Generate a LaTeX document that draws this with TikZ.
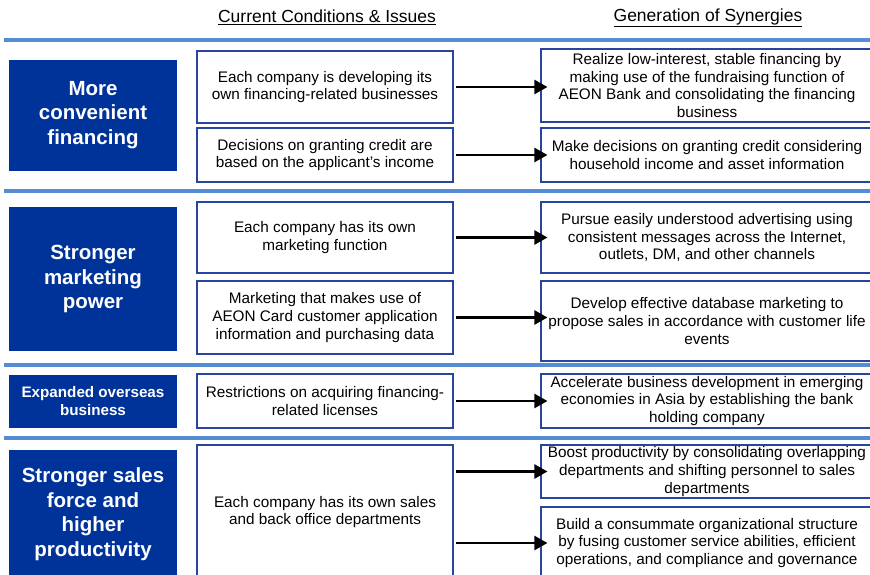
\documentclass[tikz,border=0pt]{standalone}
\usepackage{fontspec}
\setmainfont{Liberation Sans}
\usetikzlibrary{arrows.meta}

\definecolor{navyfill}{RGB}{0,51,153}
\definecolor{ruleblue}{RGB}{84,141,212}
\definecolor{edgeblue}{RGB}{40,70,160}

\begin{document}
\begin{tikzpicture}[x=1pt,y=-1pt,
    theme/.style={fill=navyfill,text=white,align=center,inner sep=0pt,
        minimum width=168pt,font=\fontsize{20.5}{24.5}\selectfont\bfseries},
    issue/.style={draw=edgeblue,line width=1.1pt,align=center,inner sep=0pt,
        minimum width=256pt,font=\fontsize{15.3}{17.9}\selectfont},
    synergy/.style={issue,minimum width=332pt},
    flow/.style={line width=2.3pt,-{Triangle[length=13pt,width=14pt]},
        shorten <=2pt,shorten >=-7pt},
    sepline/.style={ruleblue,line width=3.5pt}]
    \useasboundingbox (0,0) rectangle (870,574);

    % Column headings
    \node[font=\fontsize{17.5}{20}\selectfont] (headL) at (327,17.5) {\underline{Current Conditions \& Issues}};
    \node[font=\fontsize{17.5}{20}\selectfont] (headR) at (708,17.5) {\underline{Generation of Synergies}};

    % Separators between the rows
    \draw[sepline] (4,40) -- (870,40);
    \draw[sepline] (4,191) -- (870,191);
    \draw[sepline] (4,365) -- (870,365);
    \draw[sepline] (4,438) -- (870,438);

    % Themes on the left
    \node[theme,minimum height=111pt] (t1) at (93,115) {More\\convenient\\financing};
    \node[theme,minimum height=144pt] (t2) at (93,279) {Stronger\\marketing\\power};
    \node[theme,minimum height=53pt,font=\fontsize{15.2}{18}\selectfont\bfseries] (t3) at (93,401.5) {Expanded overseas\\business};
    \node[theme,minimum height=128pt] (t4) at (93,514) {Stronger sales\\force and\\higher\\productivity};

    % Current conditions
    \node[issue,minimum height=72pt] (m1) at (325,87) {Each company is developing its\\own financing-related businesses};
    \node[issue,minimum height=54pt] (m2) at (325,155) {Decisions on granting credit are\\based on the applicant’s income};
    \node[issue,minimum height=71pt] (m3) at (325,237.5) {Each company has its own\\marketing function};
    \node[issue,minimum height=73pt] (m4) at (325,317.5) {Marketing that makes use of\\AEON Card customer application\\information and purchasing data};
    \node[issue,minimum height=54pt] (m5) at (325,401) {Restrictions on acquiring financing-\\related licenses};
    \node[issue,minimum height=134pt] (m6) at (325,512) {Each company has its own sales\\and back office departments};

    % Synergies
    \node[synergy,minimum height=73pt] (r1) at (707,85.5) {Realize low-interest, stable financing by\\making use of the fundraising function of\\AEON Bank and consolidating the financing\\business};
    \node[synergy,minimum height=54pt] (r2) at (707,155) {Make decisions on granting credit considering\\household income and asset information};
    \node[synergy,minimum height=71pt] (r3) at (707,237.5) {Pursue easily understood advertising using\\consistent messages across the Internet,\\outlets, DM, and other channels};
    \node[synergy,minimum height=80pt] (r4) at (707,321) {Develop effective database marketing to\\propose sales in accordance with customer life\\events};
    \node[synergy,minimum height=54pt] (r5) at (707,401) {Accelerate business development in emerging\\economies in Asia by establishing the bank\\holding company};
    \node[synergy,minimum height=53pt] (r6) at (707,471.5) {Boost productivity by consolidating overlapping\\departments and shifting personnel to sales\\departments};
    \node[synergy,minimum height=72pt] (r7) at (707,543) {Build a consummate organizational structure\\by fusing customer service abilities, efficient\\operations, and compliance and governance};

    % Arrows from conditions to synergies
    \draw[flow] (m1.east) -- (m1.east -| r1.west);
    \draw[flow] (m2.east) -- (m2.east -| r2.west);
    \draw[flow] (m3.east) -- (m3.east -| r3.west);
    \draw[flow] (m4.east) -- (m4.east -| r4.west);
    \draw[flow] (m5.east) -- (m5.east -| r5.west);
    \draw[flow] (m6.east |- r6.west) -- (r6.west);
    \draw[flow] (m6.east |- r7.west) -- (r7.west);
\end{tikzpicture}
\end{document}
